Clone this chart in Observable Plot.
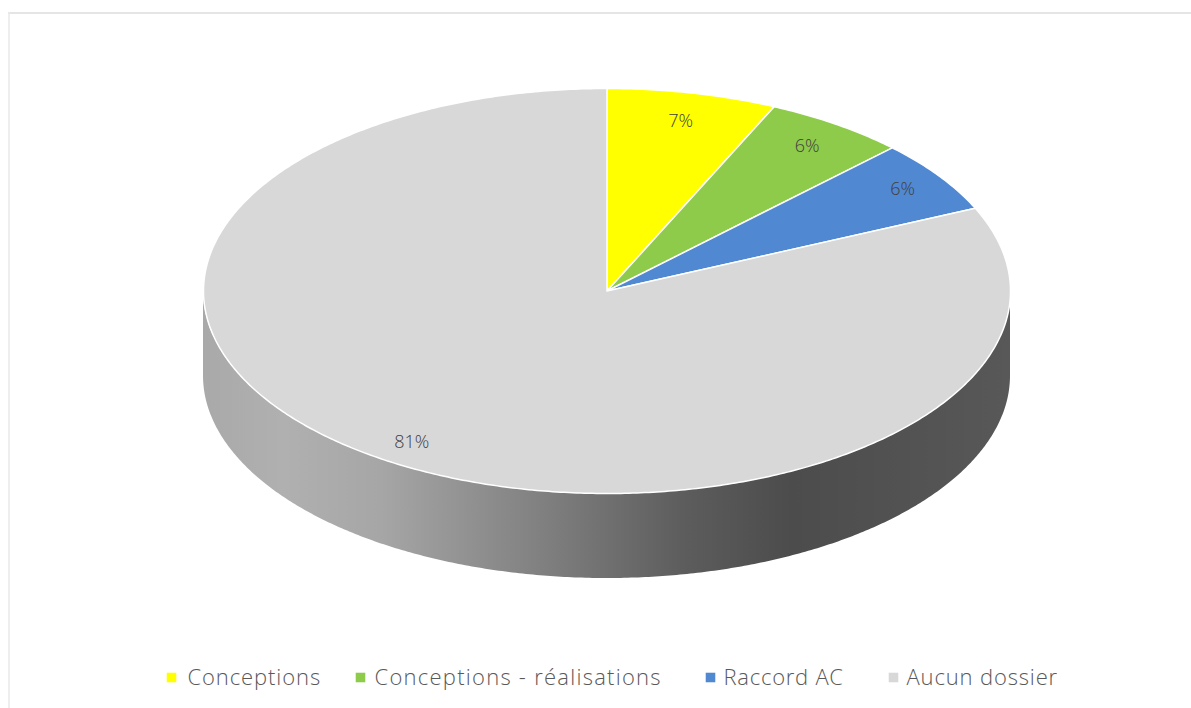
<!DOCTYPE html>
<html>
<head>
<meta charset="utf-8">
<script src="https://cdn.jsdelivr.net/npm/d3@7"></script>
<script src="https://cdn.jsdelivr.net/npm/@observablehq/plot@0.6"></script>
<style>html,body{margin:0;padding:0;background:#fff;overflow:hidden}svg{display:block}</style>
</head>
<body>
<div id="chart"></div>
<script>
const categories = ["Conceptions", "Conceptions - réalisations", "Raccord AC", "Aucun dossier"];
const shares = [6.8, 5.7, 5.8, 81.7];
const shareLabels = ["7%", "6%", "6%", "81%"];
const colors = ["#ffff00", "#8ecb4b", "#5088d2", "#d8d8d8"];

const legendSwatchX = [171, 360, 710, 893];
const legendTextX = [187, 374, 723, 906];
const legendSpacing = [0.9, 1.25, 0.75, 0.85];
const labelRadii = [0.86, 0.87, 0.89, 0.89];

// Layout of the tilted pie
const cx = 606.5, cy = 290.5, rx = 403.5, ry = 202.5, depth = 85;
const px = (a, k = 1) => cx + rx * k * Math.sin(a);
const py = (a, k = 1) => cy - ry * k * Math.cos(a);

const total = d3.sum(shares);
let cumulative = 0;
const slices = categories.map((name, i) => {
  const a0 = (cumulative / total) * 2 * Math.PI;
  cumulative += shares[i];
  const a1 = (cumulative / total) * 2 * Math.PI;
  return {name, a0, a1, label: shareLabels[i], labelR: labelRadii[i]};
});

const slicePoints = slices.flatMap(({name, a0, a1}) => {
  const n = Math.max(2, Math.ceil((a1 - a0) / 0.01));
  const arc = d3.range(n + 1).map(j => {
    const a = a0 + (a1 - a0) * j / n;
    return {name, x: px(a), y: py(a)};
  });
  return [{name, x: cx, y: cy}, ...arc, {name, x: cx, y: cy}];
});

const sideAngles = d3.range(0, 361).map(d => Math.PI / 2 + d * Math.PI / 360);
const side = sideAngles.map(a => ({x: px(a), y1: py(a), y2: py(a) + depth}));

const sideGradient = () => {
  const defs = d3.create("svg:defs");
  const g = defs.append("linearGradient").attr("id", "side")
    .attr("x1", 1).attr("x2", 0).attr("y1", 0).attr("y2", 0);
  [[0, "#585858"], [0.27, "#4c4c4c"], [0.4, "#5c5c5c"], [0.58, "#808080"], [0.78, "#a6a6a6"], [0.9, "#b0b0b0"], [1, "#a9a9a9"]]
    .forEach(([o, c]) => g.append("stop").attr("offset", o).attr("stop-color", c));
  return defs.node();
};

const legend = categories.map((name, i) => ({name, sx: legendSwatchX[i], tx: legendTextX[i]}));
const labels = slices.map(s => {
  const m = (s.a0 + s.a1) / 2;
  return {label: s.label, x: px(m, s.labelR), y: py(m, s.labelR)};
});

const chart = Plot.plot({
  width: 1191,
  height: 708,
  margin: 0,
  style: {background: "#fff", fontFamily: "'Open Sans', sans-serif"},
  x: {domain: [0, 1191], range: [0, 1191], axis: null},
  y: {domain: [0, 708], range: [0, 708], axis: null},
  color: {domain: categories, range: colors},
  marks: [
    sideGradient,
    Plot.ruleY([12.5], {x1: 8, x2: 1191, stroke: "#dcdcdc", strokeWidth: 1.5}),
    Plot.ruleX([8.5], {y1: 12, y2: 708, stroke: "#e8e8e8", strokeWidth: 1.5}),
    Plot.areaY(side, {x: "x", y1: "y1", y2: "y2", fill: "url(#side)"}),
    Plot.line(slicePoints, {x: "x", y: "y", z: "name", fill: "name", stroke: "#ffffff", strokeWidth: 1.5, curve: "linear"}),
    Plot.text(labels, {x: "x", y: "y", text: "label", fontSize: 18, fontWeight: 300, fill: "#404040"}),
    Plot.dot(legend, {x: "sx", y: () => 677, fill: "name", symbol: "square", r: 5.4}),
    Plot.text(legend, {x: "tx", y: () => 677, text: "name", textAnchor: "start", fontSize: 22, fontWeight: 300, fill: "#595959"})
  ]
});
chart.querySelectorAll("text").forEach(t => {
  const i = categories.indexOf(t.textContent);
  if (i >= 0) t.style.letterSpacing = legendSpacing[i] + "px";
});
document.getElementById("chart").append(chart);
</script>
</body>
</html>
